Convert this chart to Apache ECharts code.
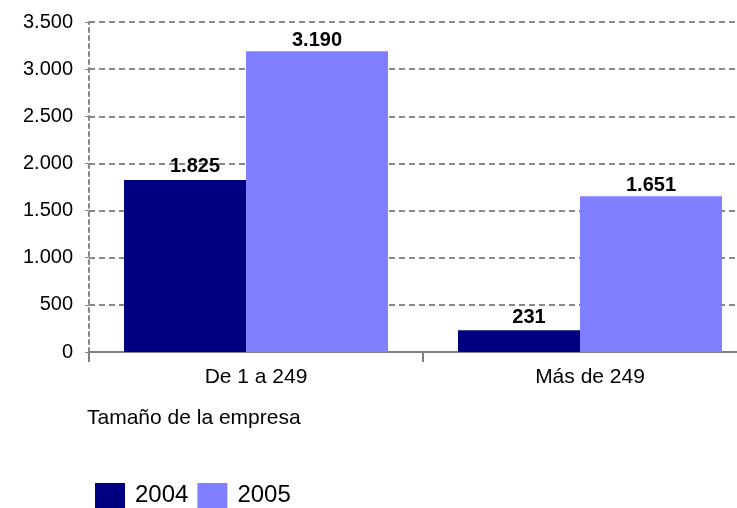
<!DOCTYPE html>
<html><head><meta charset="utf-8">
<script src="https://cdn.jsdelivr.net/npm/echarts@6/dist/echarts.min.js"></script>
<style>html,body{margin:0;padding:0;background:#fff}#c{width:737px;height:508px}</style>
</head><body><div id="c"></div>
<script>
var categories = ['De 1 a 249', 'Más de 249'];
var seriesNames = ['2004', '2005'];
var values2004 = [1825, 231];
var values2005 = [3190, 1651];
var yTicks = [0, 500, 1000, 1500, 2000, 2500, 3000, 3500];

function fmt(v){ return String(v).replace(/\B(?=(\d{3})+(?!\d))/g, '.'); }
var font = 'Arial, "Liberation Sans", sans-serif';
var chart = echarts.init(document.getElementById('c'));
chart.setOption({
  animation: false,
  grid: {left: 89, width: 668, top: 22, height: 330, containLabel: false, outerBoundsMode: 'none'},
  legend: {
    left: 95, top: 483, itemWidth: 30, itemHeight: 25, itemGap: 9, padding: 0,
    icon: 'rect',
    textStyle: {fontFamily: font, fontSize: 24, color: '#000', padding: [0,0,0,5]},
    data: seriesNames
  },
  graphic: [{type: 'text', left: 87, top: 408, style: {text: 'Tamaño de la empresa', font: '21px ' + font, fill: '#000'}}],
  xAxis: {
    type: 'category', data: categories,
    axisLine: {lineStyle: {color: '#808080', width: 2}},
    axisTick: {show: true, length: 10, lineStyle: {color: '#808080', width: 2}},
    axisLabel: {fontFamily: font, fontSize: 21, color: '#000', margin: 15},
    splitLine: {show: false}
  },
  yAxis: {
    type: 'value', min: yTicks[0], max: yTicks[yTicks.length-1], interval: 500,
    axisLine: {show: true, lineStyle: {color: '#888888', type: [4,4], width: 2}},
    axisTick: {show: true, length: 4, lineStyle: {color: '#888888'}},
    axisLabel: {fontFamily: font, fontSize: 20, color: '#000', margin: 16, formatter: fmt},
    splitLine: {show: true, lineStyle: {color: '#888888', type: [6,4], width: 2}}
  },
  series: [
    {name: seriesNames[0], type: 'bar', data: values2004, barWidth: 122, barGap: 0,
     itemStyle: {color: '#000080'},
     label: {show: true, position: 'top', distance: 3, offset: [10, 0], fontFamily: font, fontSize: 20, fontWeight: 'bold', color: '#000', formatter: function(p){return fmt(p.value);}}},
    {name: seriesNames[1], type: 'bar', data: values2005, barWidth: 142, barGap: 0,
     itemStyle: {color: '#8080FF'},
     label: {show: true, position: 'top', distance: 1, fontFamily: font, fontSize: 20, fontWeight: 'bold', color: '#000', formatter: function(p){return fmt(p.value);}}}
  ]
});
</script></body></html>
